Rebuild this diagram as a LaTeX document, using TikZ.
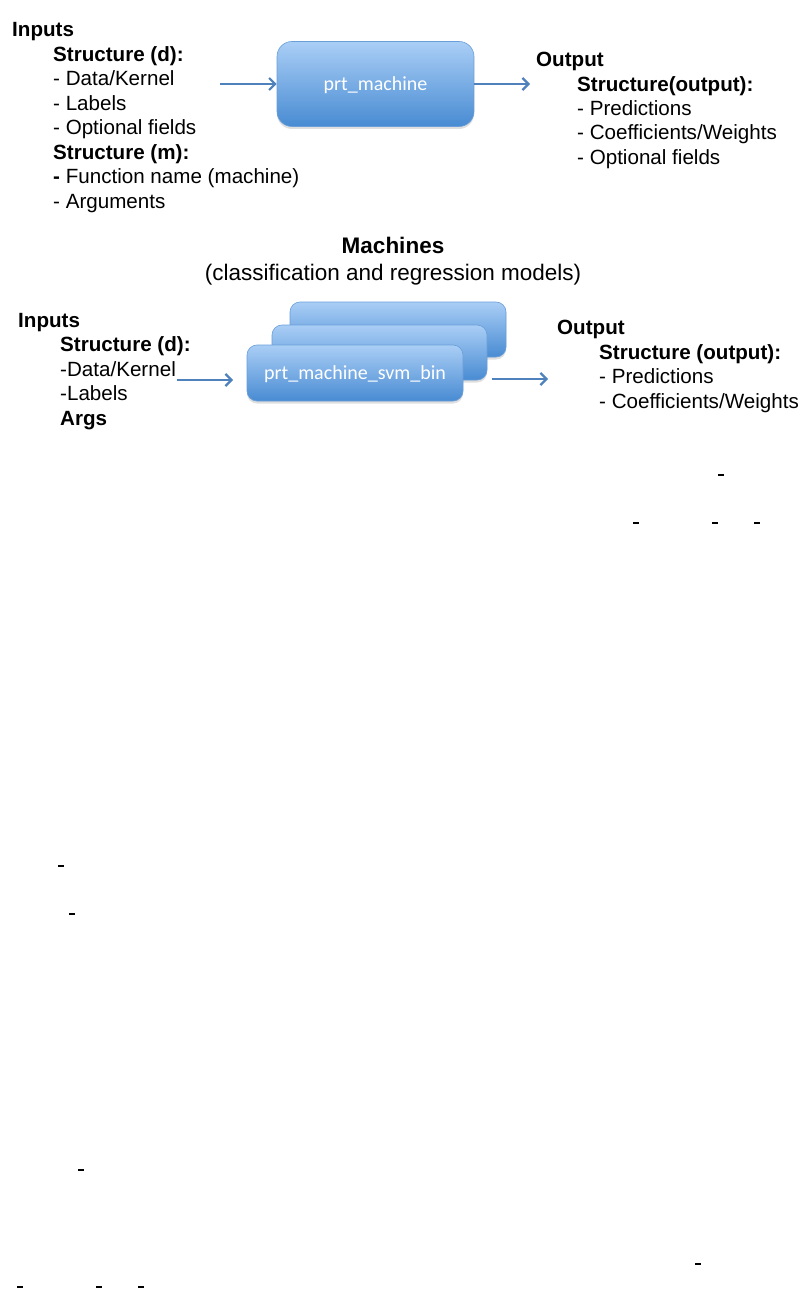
\documentclass[tikz,border=0pt]{standalone}
\usepackage{fontspec}
\setmainfont{Liberation Sans}
\newfontfamily\boxfont{Carlito}
\usetikzlibrary{arrows.meta,shadows}
\definecolor{arrowblue}{RGB}{79,129,189}
\definecolor{boxtop}{RGB}{170,206,246}
\definecolor{boxbot}{RGB}{72,139,210}
\definecolor{boxedge}{RGB}{105,158,216}
\tikzset{
  txt/.style={anchor=base west, inner sep=0pt, font=\fontsize{20.6}{24}\selectfont},
  btxt/.style={anchor=base west, inner sep=0pt, font=\fontsize{20.6}{24}\selectfont\bfseries},
  ttl/.style={anchor=base, inner sep=0pt, font=\fontsize{22.5}{27}\selectfont},
  machine/.style={draw=boxedge, line width=0.6pt, top color=boxtop, bottom color=boxbot,
    text=white, font=\boxfont\fontsize{20}{24}\selectfont, inner sep=0pt, text depth=0pt,
    drop shadow={opacity=0.25, shadow xshift=0pt, shadow yshift=-2.5pt}},
  arr/.style={draw=arrowblue, line width=2.2pt, -{Straight Barb[length=6pt,width=12pt]}},
  speck/.style={line width=1.3pt, black}
}
\begin{document}
\begin{tikzpicture}[x=1pt, y=-1pt]
\path[fill=white] (0,0) rectangle (807,1289);
\useasboundingbox (0,0) rectangle (807,1289);

% ---------- top section ----------
\node[btxt] (tin)  at (12,37)  {Inputs};
\node[btxt] (tsd)  at (53,62)  {Structure (d):};
\node[txt]  (tdk)  at (53,86)  {- Data/Kernel};
\node[txt]  (tlb)  at (53,111) {- Labels};
\node[txt]  (tof)  at (53,135) {- Optional fields};
\node[btxt] (tsm)  at (53,160) {Structure (m):};
\node[txt]  (tfn)  at (53,184) {\textbf{-} Function name (machine)};
\node[txt]  (targ) at (53,209) {- Arguments};

\node[machine, rounded corners=15pt, minimum width=197pt, minimum height=85pt]
  (tbox) at (375.5,84) {prt\_machine};

\coordinate (tain) at (220,84);
\coordinate (taout) at (530,84);
\draw[arr] (tain) -- (tbox.west);
\draw[arr] (tbox.east) -- (taout);

\node[btxt] (tout) at (536,67)  {Output};
\node[btxt] (tso)  at (577,92)  {Structure(output):};
\node[txt]  (tpr)  at (577,116) {- Predictions};
\node[txt]  (tcw)  at (577,140) {- Coefficients/Weights};
\node[txt]  (tof2) at (577,165) {- Optional fields};

% ---------- titles ----------
\node[ttl, font=\fontsize{22.5}{27}\selectfont\bfseries] (mach) at (393,253) {Machines};
\node[ttl] (msub) at (393,280) {(classification and regression models)};

% ---------- middle section ----------
\node[btxt] (min)  at (18,327) {Inputs};
\node[btxt] (msd)  at (60,351) {Structure (d):};
\node[txt]  (mdk)  at (60,376) {-Data/Kernel};
\node[txt]  (mlb)  at (60,400) {-Labels};
\node[btxt] (marg) at (60,425) {Args};

\node[machine, rounded corners=10pt, minimum width=216pt, minimum height=55pt]
  (mback) at (398,329.5) {};
\node[machine, rounded corners=10pt, minimum width=215pt, minimum height=55pt]
  (mmid) at (379.5,352.5) {};
\node[machine, rounded corners=10pt, minimum width=216pt, minimum height=56pt]
  (mfront) at (355,373) {prt\_machine\_svm\_bin};

\coordinate (main1) at (177,380);
\coordinate (main2) at (233,380);
\coordinate (maout1) at (492,379);
\coordinate (maout2) at (548,379);
\draw[arr] (main1) -- (main2);
\draw[arr] (maout1) -- (maout2);

\node[btxt] (mout) at (557,334) {Output};
\node[btxt] (mso)  at (599,359) {Structure (output):};
\node[txt]  (mpr)  at (599,383) {- Predictions};
\node[txt]  (mcw)  at (599,408) {- Coefficients/Weights};

% ---------- stray marks ----------
\draw[speck] (718,475) -- (724,475);
\draw[speck] (633,523) -- (639,523);
\draw[speck] (712,523) -- (718,523);
\draw[speck] (754,523) -- (760,523);
\draw[speck] (58,866) -- (64,866);
\draw[speck] (69,914) -- (75,914);
\draw[speck] (78,1170) -- (84,1170);
\draw[speck] (695,1264) -- (701,1264);
\draw[speck] (17,1287) -- (23,1287);
\draw[speck] (96,1287) -- (102,1287);
\draw[speck] (138,1287) -- (144,1287);
\end{tikzpicture}
\end{document}
